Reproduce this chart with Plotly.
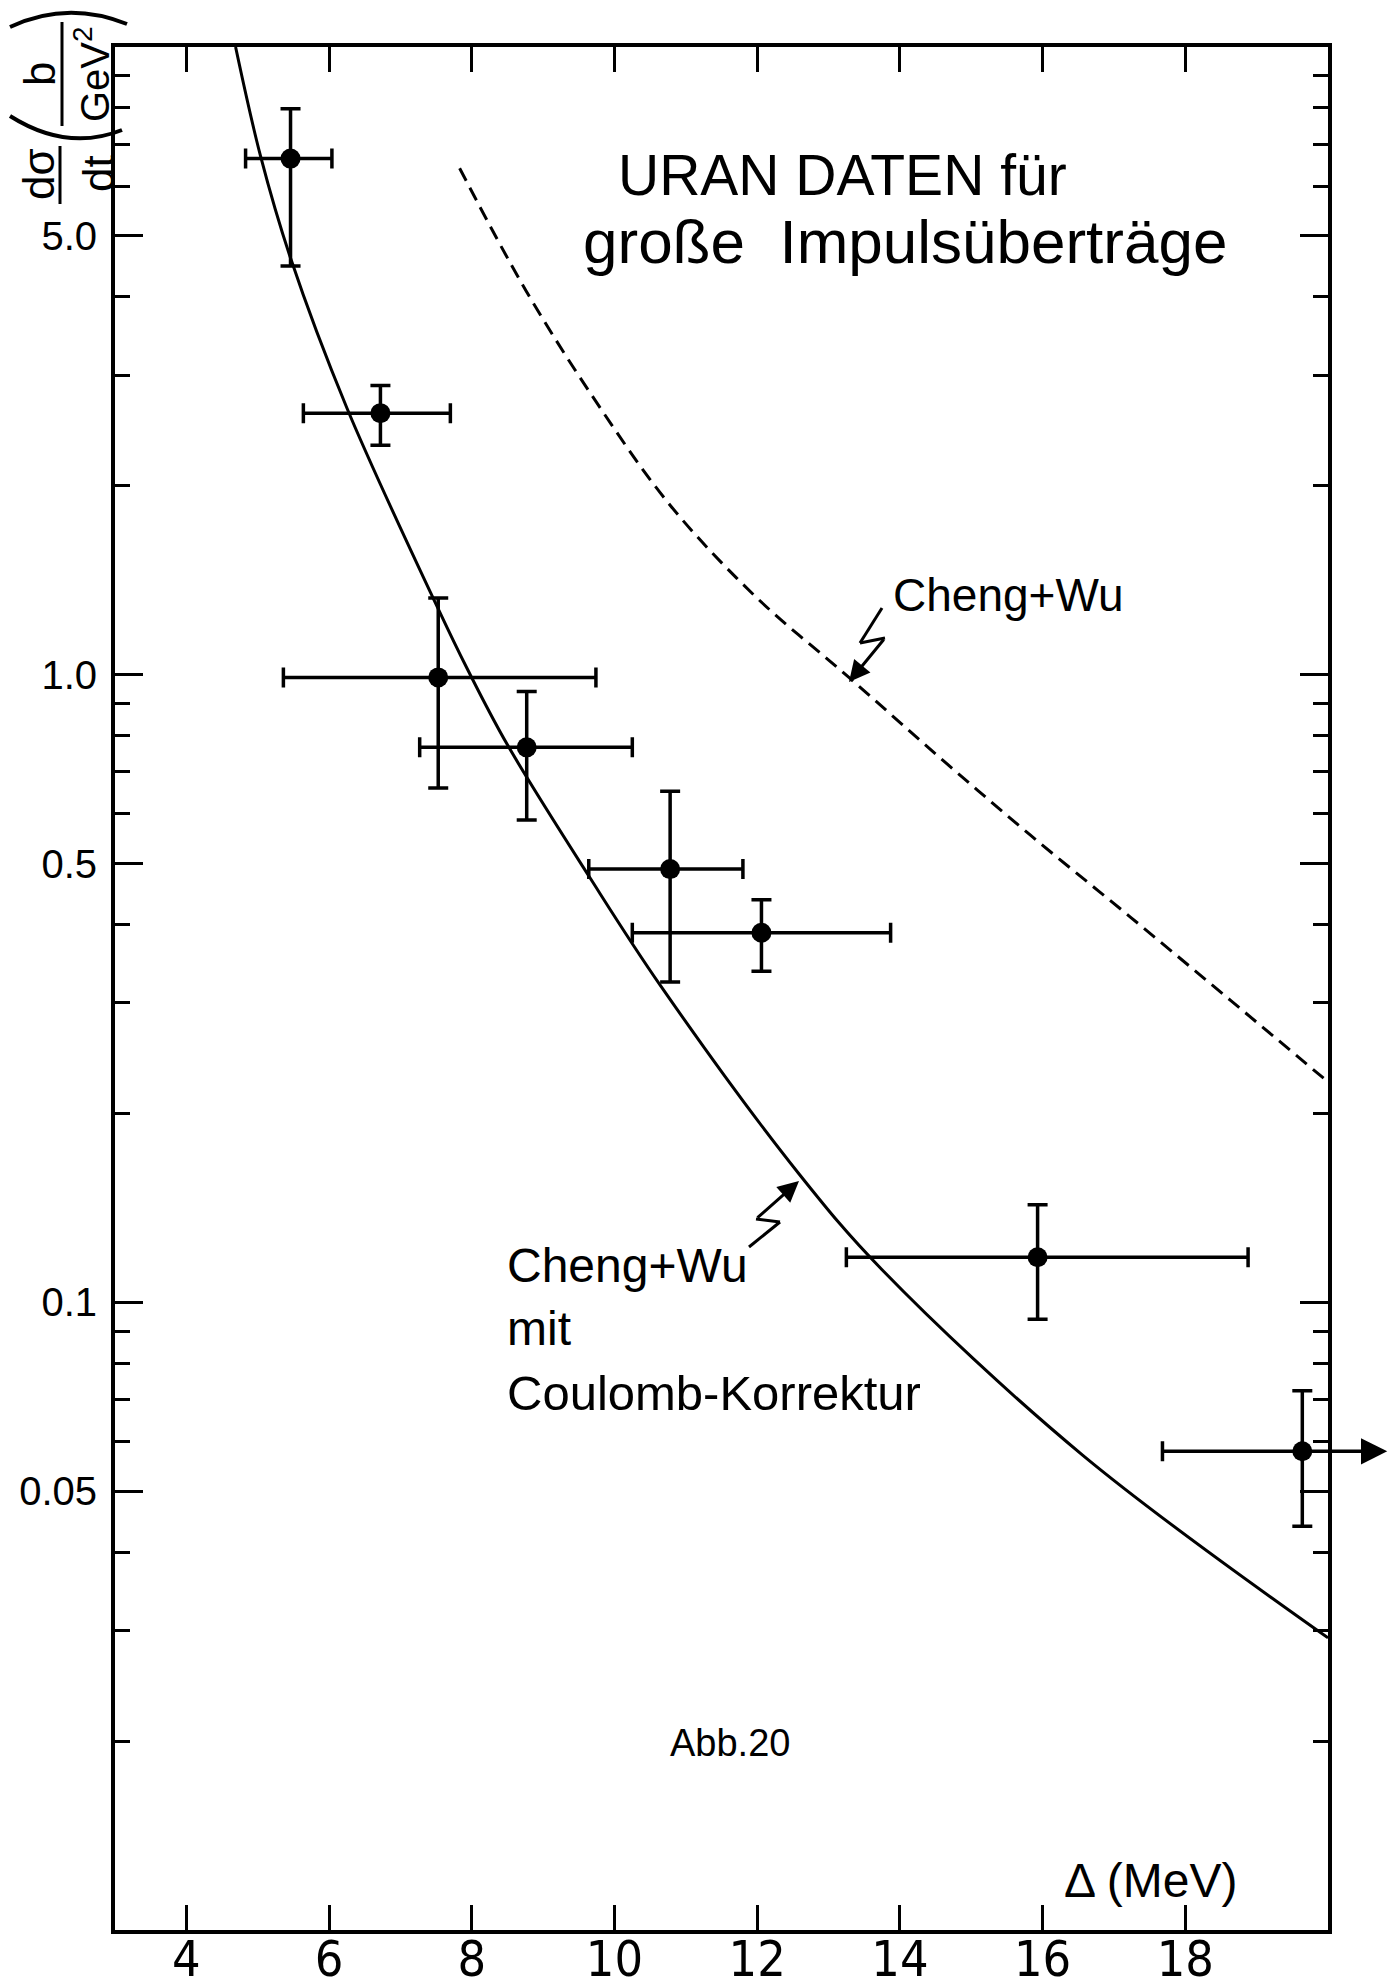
import math
import plotly.graph_objects as go

# ---------------- data ----------------
delta_c = [5.46, 6.72, 7.53, 8.77, 10.78, 12.06, 15.93, 19.64]
delta_lo = [4.83, 5.64, 5.36, 7.27, 9.64, 10.25, 13.25, 17.68]
delta_hi = [6.04, 7.70, 9.74, 10.25, 11.80, 13.87, 18.88, 19.64]
sigma_c = [6.64, 2.61, 0.99, 0.766, 0.49, 0.388, 0.118, 0.0579]
sigma_hi = [7.97, 2.89, 1.325, 0.94, 0.652, 0.438, 0.143, 0.0723]
sigma_lo = [4.48, 2.32, 0.66, 0.587, 0.324, 0.337, 0.094, 0.044]
last_point_arrow_end = 20.83

coul_x = [4.69, 5.04, 5.46, 6.25, 7.52, 7.94, 8.50, 9.65, 10.65, 12.59, 13.74, 16.56, 20.0]
coul_y = [10.0, 6.70, 4.61, 2.66, 1.28, 1.02, 0.773, 0.476, 0.319, 0.160, 0.113, 0.0571, 0.0292]

cw_x = [7.83, 8.76, 9.73, 10.78, 11.97, 13.29, 14.57, 15.83, 17.23, 18.63, 20.0]
cw_y = [6.41, 4.09, 2.735, 1.862, 1.334, 0.989, 0.736, 0.555, 0.411, 0.303, 0.2245]

x_ticks = [4, 6, 8, 10, 12, 14, 16, 18]
y_ticks = [0.05, 0.1, 0.5, 1.0, 5.0]
y_ticktext = ["0.05", "0.1", "0.5", "1.0", "5.0"]
y_minor = [m * 10 ** e for e in (-2, -1, 0) for m in range(2, 10)]

# ---------------- geometry helpers ----------------
W, H = 1395, 1987
L, R, T, B = 115, 1328, 47, 1930
PW, PH = R - L, B - T


def pxx(x):
    return (x - L) / PW


def pxy(y):
    return (B - y) / PH


FONT = "Liberation Sans, Arial, sans-serif"
NARROW = "Liberation Sans Narrow, DejaVu Sans Condensed, Arial Narrow, Liberation Sans, sans-serif"

fig = go.Figure()

fig.add_trace(go.Scatter(x=cw_x, y=cw_y, mode="lines",
                         line=dict(color="black", width=3, dash="14px,8px", shape="spline"),
                         showlegend=False, hoverinfo="skip"))
fig.add_trace(go.Scatter(x=coul_x, y=coul_y, mode="lines",
                         line=dict(color="black", width=3, shape="spline"),
                         showlegend=False, hoverinfo="skip"))

fig.add_trace(go.Scatter(
    x=delta_c, y=sigma_c, mode="markers",
    marker=dict(color="black", size=20),
    error_x=dict(type="data", symmetric=False,
                 array=[h - c for h, c in zip(delta_hi, delta_c)],
                 arrayminus=[c - l for l, c in zip(delta_lo, delta_c)],
                 color="black", thickness=3.5, width=10),
    error_y=dict(type="data", symmetric=False,
                 array=[h - c for h, c in zip(sigma_hi, sigma_c)],
                 arrayminus=[c - l for l, c in zip(sigma_lo, sigma_c)],
                 color="black", thickness=3.5, width=10),
    showlegend=False, cliponaxis=False))

ann = []
# arrow of the last point beyond the frame
ann.append(dict(x=last_point_arrow_end, y=math.log10(sigma_c[-1]), xref="x", yref="y",
                ax=delta_c[-1], ay=math.log10(sigma_c[-1]), axref="x", ayref="y",
                text="", showarrow=True, arrowhead=2, arrowsize=1.5, arrowwidth=3.5, arrowcolor="black"))


def txt(s, x, y, size, anchor="left", angle=0, font=FONT):
    ann.append(dict(text=s, x=pxx(x), y=pxy(y), xref="paper", yref="paper", xanchor=anchor, yanchor="middle",
                    showarrow=False, textangle=angle, font=dict(family=font, size=size, color="black")))


txt("URAN DATEN für", 616, 175, 57)
txt("große  Impulsüberträge", 581, 241, 62)
txt("Cheng+Wu", 891, 595, 46)
txt("Cheng+Wu", 505, 1265, 48)
txt("mit", 505, 1328, 48)
txt("Coulomb-Korrektur", 505, 1393, 49)
txt("Abb.20", 668, 1743, 38)
txt("Δ (MeV)", 1062, 1880, 48)

# y-axis title, built from rotated pieces
txt("dσ", 38, 174, 44, anchor="center", angle=-90)
txt("dt", 98, 174, 44, anchor="center", angle=-90)
txt("b", 39, 74, 44, anchor="center", angle=-90)
txt("GeV<sup>2</sup>", 92, 74, 40, anchor="center", angle=-90)

shapes = []


def seg(x0, y0, x1, y1, w=3):
    shapes.append(dict(type="line", xref="paper", yref="paper", x0=pxx(x0), y0=pxy(y0), x1=pxx(x1), y1=pxy(y1),
                       line=dict(color="black", width=w)))


def arc(p0, c, p1, w=4):
    path = "M%.5f,%.5f Q%.5f,%.5f %.5f,%.5f" % (pxx(p0[0]), pxy(p0[1]), pxx(c[0]), pxy(c[1]),
                                                pxx(p1[0]), pxy(p1[1]))
    shapes.append(dict(type="path", xref="paper", yref="paper", path=path, line=dict(color="black", width=w)))


seg(60, 146, 60, 204)
seg(62, 22, 62, 126)
arc((10, 27), (67, 0), (127, 24))      # closing parenthesis (top)
arc((10, 116), (67, 152), (122, 130))  # opening parenthesis (bottom)

# zig-zag pointers
for pts in ([(882, 608), (860, 643), (885, 638)], [(749, 1247), (780, 1222), (756, 1219)]):
    for (a, b), (c, d) in zip(pts[:-1], pts[1:]):
        seg(a, b, c, d, 3)


def pointer(tail, head):
    ann.append(dict(x=pxx(head[0]), y=pxy(head[1]), xref="paper", yref="paper",
                    ax=tail[0] - head[0], ay=tail[1] - head[1], axref="pixel", ayref="pixel",
                    text="", showarrow=True, arrowhead=2, arrowsize=1.4, arrowwidth=3, arrowcolor="black"))


pointer((885, 638), (849, 682))
pointer((756, 1219), (799, 1181))

axis_common = dict(showline=True, linecolor="black", linewidth=4, mirror="ticks", showgrid=False, zeroline=False,
                   ticks="inside", tickcolor="black", tickwidth=3, automargin=False)

fig.update_layout(
    width=W, height=H, margin=dict(l=L, r=W - R, t=T, b=H - B, autoexpand=False),
    paper_bgcolor="white", plot_bgcolor="white",
    xaxis=dict(range=[3, 20], tickmode="array", tickvals=x_ticks, ticklen=25,
               tickfont=dict(family=NARROW, size=50, color="black"), ticklabelstandoff=-18, **axis_common),
    yaxis=dict(type="log", range=[-2, 1], tickmode="array", tickvals=y_ticks, ticktext=y_ticktext, ticklen=28,
               tickfont=dict(family=FONT, size=40, color="black"), ticklabelstandoff=6,
               minor=dict(tickvals=y_minor, ticklen=15, tickwidth=3, tickcolor="black", ticks="inside"),
               **axis_common),
    annotations=ann, shapes=shapes,
)

fig.write_html("out.html")
